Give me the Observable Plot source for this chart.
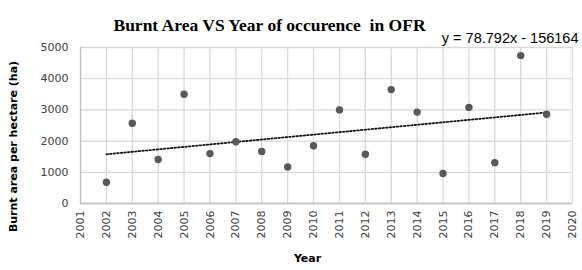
<!DOCTYPE html>
<html>
<head>
<meta charset="utf-8">
<script src="https://cdn.jsdelivr.net/npm/d3@7"></script>
<script src="https://cdn.jsdelivr.net/npm/@observablehq/plot@0.6"></script>
<style>
  html, body { margin: 0; padding: 0; background: #fff; }
  #chart svg { display: block; }
</style>
</head>
<body>
<div id="chart"></div>
<script>
// Burnt area (ha) per year in OFR
const years = [2002, 2003, 2004, 2005, 2006, 2007, 2008, 2009, 2010, 2011,
               2012, 2013, 2014, 2015, 2016, 2017, 2018, 2019];
const burntArea = [680, 2570, 1410, 3500, 1600, 1980, 1670, 1170, 1850, 3000,
                   1580, 3650, 2930, 960, 3080, 1310, 4740, 2860];

// Axis ticks
const xTicks = d3.range(2001, 2021);
const yTicks = [0, 1000, 2000, 3000, 4000, 5000];

// Linear trend, as stated by the equation label
const slope = 78.792;
const intercept = -156164;
const trendYears = [2002, 2019];

const titleText = "Burnt Area VS Year of occurence\u00a0 in OFR";
const equationText = `y = ${slope}x - ${Math.abs(intercept)}`;
const xTitle = "Year";
const yTitle = "Burnt area per hectare (ha)";

const points = years.map((year, i) => ({year, area: burntArea[i]}));
const trend = trendYears.map(year => ({year, area: slope * year + intercept}));

const gridColor = "#d9d9d9";
const tickColor = "#404040";

const chart = Plot.plot({
  width: 582,
  height: 270,
  marginLeft: 80,
  marginRight: 10,
  marginTop: 47,
  marginBottom: 67,
  style: {fontFamily: "DejaVu Sans", fontSize: "11px", background: "#fff", overflow: "visible"},
  x: {domain: [2001, 2020]},
  y: {domain: [0, 5000]},
  marks: [
    Plot.gridX(xTicks, {stroke: gridColor, strokeOpacity: 1, strokeWidth: 1.3}),
    Plot.gridY(yTicks, {stroke: gridColor, strokeOpacity: 1, strokeWidth: 1.3}),
    Plot.ruleX([2001], {stroke: "#bfbfbf", strokeWidth: 1.3}),
    Plot.ruleY([0], {stroke: "#bfbfbf", strokeWidth: 1.3}),
    Plot.axisX({ticks: xTicks, tickFormat: d => String(d), tickRotate: -90,
                tickSize: 0, tickPadding: 7, label: null, fill: tickColor}),
    Plot.axisY({ticks: yTicks, tickFormat: d => String(d),
                tickSize: 0, tickPadding: 12, label: null, fill: tickColor}),
    Plot.line(trend, {x: "year", y: "area", stroke: "#111", strokeWidth: 1.8,
                      strokeDasharray: "1.6,2"}),
    Plot.dot(points, {x: "year", y: "area", r: 3.7, fill: "#595959", stroke: "none"}),
    // Chart title
    Plot.text([titleText], {frameAnchor: "top", dx: -57, dy: -29, textAnchor: "middle",
      text: d => d, fontFamily: "Liberation Serif", fontSize: 17.5, fontWeight: "bold", fill: "#000"}),
    // Trend equation
    Plot.text([equationText], {frameAnchor: "top-right", dx: 6, dy: -15, textAnchor: "end",
      text: d => d, fontFamily: "Liberation Sans", fontSize: 14.5, fill: "#000"}),
    // Axis titles
    Plot.text([xTitle], {frameAnchor: "bottom", dx: -19, dy: 58.5, textAnchor: "middle",
      text: d => d, fontSize: 11, fontWeight: "bold", fill: "#000"}),
    Plot.text([yTitle], {frameAnchor: "left", dx: -67.5, dy: 21, rotate: -90, textAnchor: "middle",
      text: d => d, fontSize: 11, fontWeight: "bold", fill: "#000"})
  ]
});

document.getElementById("chart").append(chart);
</script>
</body>
</html>
